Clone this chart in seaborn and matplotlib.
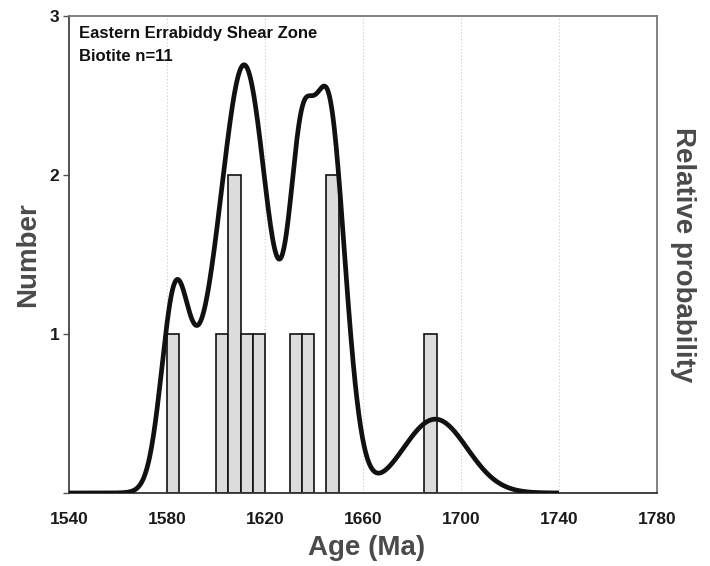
import numpy as np
import pandas as pd
import matplotlib
matplotlib.use('Agg')
import matplotlib.pyplot as plt
import seaborn as sns
from matplotlib import font_manager

# biotite ages (Ma) and 1-sigma errors, Eastern Errabiddy Shear Zone
ages = [1583.1, 1602.5, 1607.6, 1609.8, 1611.8, 1618.5, 1634.8, 1638.4, 1645.2, 1649.8, 1689.5]
errors = [5.5, 11.4, 11.3, 12.4, 7.3, 9.2, 4.8, 8.0, 5.3, 6.2, 13.0]
bin_edges = np.arange(1580, 1695, 5)
x_ticks = [1540, 1580, 1620, 1660, 1700, 1740, 1780]
y_ticks = [0, 1, 2, 3]
y_ticklabels = ['', '1', '2', '3']

df = pd.DataFrame({'age': ages, 'error': errors})

# cumulative probability curve = sum of normal densities of the ages
grid = np.linspace(1540, 1740, 801)
z = (grid[:, None] - df['age'].values) / df['error'].values
dens = (np.exp(-0.5 * z ** 2) / (df['error'].values * np.sqrt(2 * np.pi))).sum(axis=1)
curve = pd.DataFrame({'age': grid, 'prob': dens})

sns.set_theme(style='white')
plt.rcParams['font.family'] = ['Liberation Sans', 'DejaVu Sans']

names = {f.name for f in font_manager.fontManager.ttflist}
if 'Liberation Sans Narrow' in names:
    tick_font = dict(family='Liberation Sans Narrow', size=14.5, weight='bold')
else:
    tick_font = dict(family='Liberation Sans', size=12.5, weight='bold')

fig = plt.figure(figsize=(7.1, 5.66), dpi=100)
ax = fig.add_axes([69 / 710, 73 / 566, 588 / 710, 477 / 566])

sns.histplot(data=df, x='age', bins=bin_edges, ax=ax, color='#dcdcdc', edgecolor='#111111',
             linewidth=1.2, alpha=1, zorder=2)
for p in ax.patches:
    if p.get_height() == 0:
        p.set_visible(False)

ax.set_xlim(1540, 1780)
ax.set_ylim(0, 3)
ax.set_xticks(x_ticks)
ax.set_xticks(np.arange(1540, 1781, 8), minor=True)
ax.set_yticks(y_ticks)
ax.set_yticklabels(y_ticklabels)
ax.set_xticklabels([str(t) for t in x_ticks])
for lab in ax.get_xticklabels() + ax.get_yticklabels():
    lab.set_fontproperties(font_manager.FontProperties(**tick_font))
    lab.set_color('#1a1a1a')

for xv in x_ticks[1:-1]:
    ax.axvline(xv, color='#c8c8c8', linestyle=(0, (1, 2)), linewidth=0.8, zorder=0)

ax.tick_params(axis='x', which='major', direction='in', length=5, width=1, color='#555555', pad=13.5)
ax.tick_params(axis='x', which='minor', direction='in', length=3.5, width=0.8, color='#777777')
ax.tick_params(axis='y', which='major', direction='out', length=4, width=1, color='#555555', pad=3)
ax.tick_params(axis='y', which='minor', left=False)

for side, col in [('left', '#444444'), ('bottom', '#333333'), ('top', '#777777'), ('right', '#777777')]:
    ax.spines[side].set_color(col)
    ax.spines[side].set_linewidth(1.3)

label_kw = dict(fontsize=20, fontweight='bold', color='#4a4a4a')
ax.set_xlabel('Age (Ma)', va='center', **label_kw)
ax.xaxis.set_label_coords((367 - 69) / 588, -(548 - 493) / 477)
ax.set_ylabel('Number', va='center', **label_kw)
ax.yaxis.set_label_coords(-(69 - 28) / 588, 0.5)

ax2 = ax.twinx()
sns.lineplot(data=curve, x='age', y='prob', ax=ax2, color='#111111', linewidth=3.4,
             solid_capstyle='butt')
ax2.set_ylim(0, 3 / 15.13)
ax2.set_yticks([])
ax2.set_ylabel('Relative probability', rotation=270, va='center', **label_kw)
ax2.yaxis.set_label_coords((683 - 69) / 588, 0.5)
for sp in ax2.spines.values():
    sp.set_visible(False)

ax.text(79 / 710, 1 - 37.7 / 566, 'Eastern Errabiddy Shear Zone', transform=fig.transFigure,
        fontsize=12, fontweight='bold', color='#111111', va='baseline')
ax.text(79 / 710, 1 - 60.7 / 566, 'Biotite n=11', transform=fig.transFigure,
        fontsize=12, fontweight='bold', color='#111111', va='baseline')

fig.savefig('out.png', dpi=100)
